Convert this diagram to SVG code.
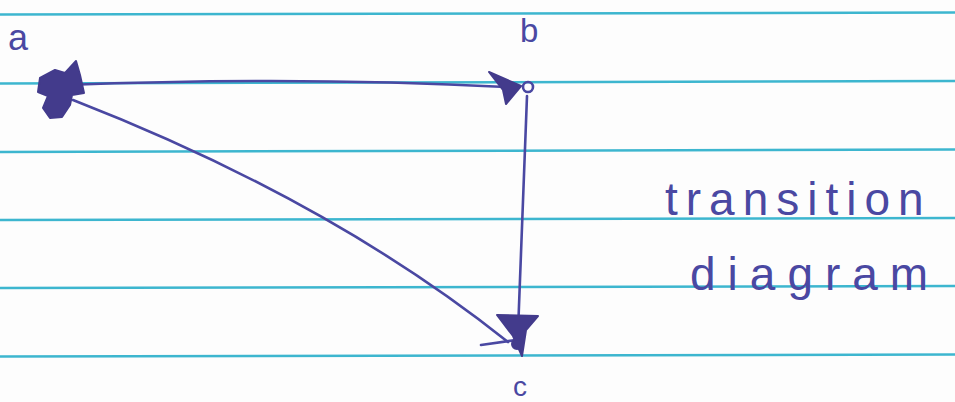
<svg xmlns="http://www.w3.org/2000/svg" width="955" height="402" viewBox="0 0 955 402">
<style>
.rule{stroke:#3db6cf;stroke-width:2.5;fill:none}
.ink{stroke:#4a48a2;stroke-width:2.6;fill:none;stroke-linecap:round;stroke-linejoin:round}
.blob{fill:#433b8c;stroke:#433b8c;stroke-width:2;stroke-linejoin:round}
.lbl{font-family:"Liberation Sans",Arial,sans-serif;fill:#4a48a2}
.note{font-family:"Liberation Sans",Arial,sans-serif;fill:#4a48a2;font-size:46px}
</style>
<rect width="955" height="402" fill="#fdfdfd"/>
<g id="paper">
<line class="rule" x1="0" y1="14.5" x2="955" y2="12.5"/>
<line class="rule" x1="0" y1="83.5" x2="955" y2="81"/>
<line class="rule" x1="0" y1="152" x2="955" y2="149.5"/>
<line class="rule" x1="0" y1="220" x2="955" y2="218"/>
<line class="rule" x1="0" y1="288" x2="955" y2="286"/>
<line class="rule" x1="0" y1="356.5" x2="955" y2="354.5"/>
</g>
<g id="connectors">
<path class="ink" d="M 66 85 Q 300 76 506 87"/>
<path class="ink" d="M 527 96 L 518 332"/>
<path class="ink" d="M 73 100 Q 330 200 508 342"/>
<path class="blob" d="M 489 72 L 521 86 L 506 104 L 503 90 Z"/>
<path class="blob" d="M 497 315 L 538 316 L 526 330 L 522 356 L 513 336 Z"/>
<path class="ink" d="M 481 345 L 516 340"/>
</g>
<g id="node-a">
<path class="blob" d="M 40 78 L 55 70 L 65 73 L 76 61 L 80 75 L 84 93 L 72 95 L 70 105 L 62 117 L 50 118 L 43 108 L 48 96 L 38 92 Z"/>
<text class="lbl" x="8" y="50" font-size="36">a</text>
</g>
<g id="node-b">
<circle class="ink" cx="528" cy="87" r="5"/>
<text class="lbl" x="520" y="42" font-size="33">b</text>
</g>
<g id="node-c">
<circle class="blob" cx="517" cy="344" r="5"/>
<text class="lbl" x="513" y="396" font-size="28">c</text>
</g>
<g id="caption">
<text class="note" x="665" y="215" letter-spacing="8">transition</text>
<text class="note" x="690" y="290" letter-spacing="12">diagram</text>
</g>
</svg>
